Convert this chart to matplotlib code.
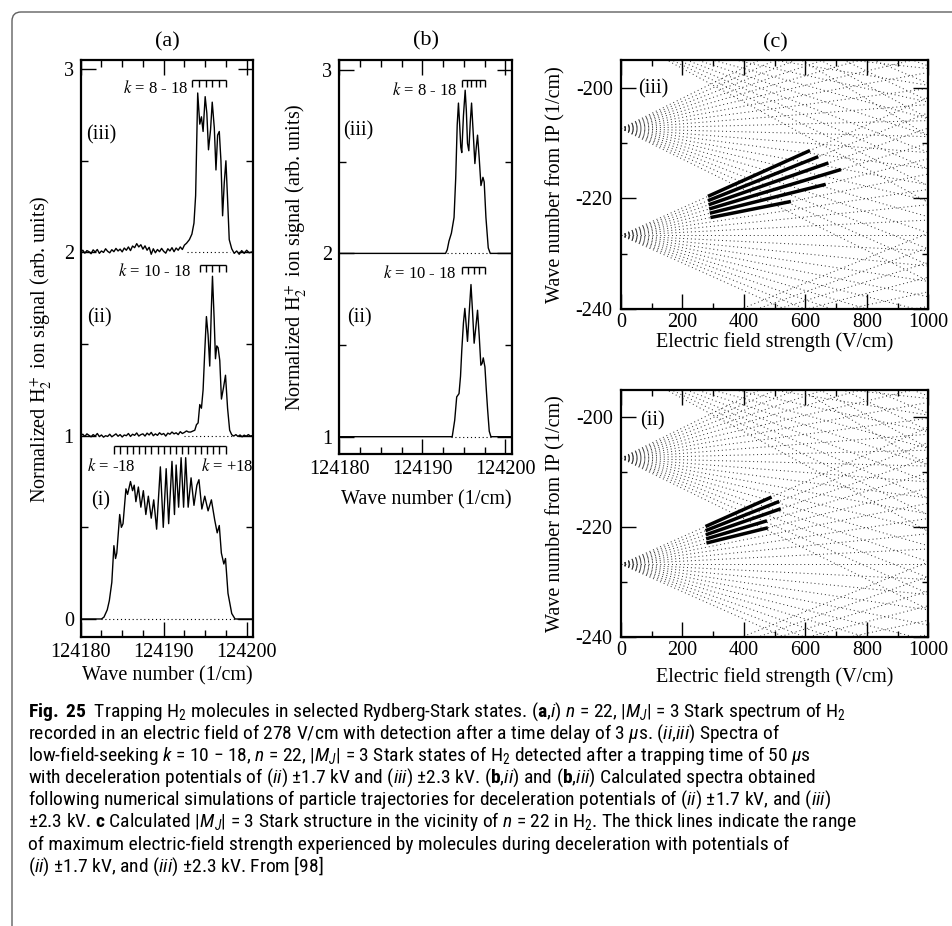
import numpy as np
import matplotlib
matplotlib.use("Agg")
import matplotlib.pyplot as plt
from matplotlib import font_manager
from matplotlib.patches import FancyBboxPatch
from matplotlib.transforms import IdentityTransform
from matplotlib.ticker import MultipleLocator, FormatStrFormatter

W, H = 953, 926
WN0 = 124180  # wave numbers below are offsets from this

# ---- panel (a): measured spectra (offset in 1/cm, normalized signal) ----
a_i_x = [0.0, 2.5, 2.8, 3.2, 3.45, 3.75, 4.0, 4.2, 4.35, 4.7, 4.9, 5.1, 5.45, 5.65,
         6.0, 6.25, 6.45, 6.65, 6.95, 7.25, 7.55, 7.85, 8.15, 8.5, 8.8, 9.15, 9.6,
         9.95, 10.3, 10.6, 11.0, 11.3, 11.5, 11.8, 12.1, 12.4, 12.65, 12.95, 13.3,
         13.65, 14.0, 14.25, 14.6, 14.95, 15.35, 15.75, 16.15, 16.45, 16.7, 16.95,
         17.25, 17.45, 17.75, 18.2, 18.6, 20.8]
a_i_y = [0.0, 0.0, 0.01, 0.05, 0.10, 0.20, 0.40, 0.33, 0.36, 0.57, 0.50, 0.52, 0.71,
         0.68, 0.75, 0.70, 0.73, 0.64, 0.72, 0.61, 0.70, 0.57, 0.67, 0.55, 0.65, 0.49,
         0.83, 0.50, 0.82, 0.52, 0.86, 0.57, 0.84, 0.61, 0.88, 0.61, 0.88, 0.61, 0.77,
         0.62, 0.73, 0.76, 0.60, 0.67, 0.59, 0.65, 0.54, 0.47, 0.51, 0.36, 0.30, 0.33,
         0.14, 0.03, 0.0, 0.0]

# (iii) baseline sampled every 0.25 from 0, then the band
a_iii_base = [2.000, 2.012, 1.996, 2.010, 2.004, 1.993, 2.014, 2.002, 2.016, 1.995,
              2.008, 2.000, 2.020, 2.006, 1.998, 2.015, 2.004, 2.022, 2.008, 2.018,
              2.003, 2.024, 2.012, 2.030, 2.010, 2.035, 2.026, 2.048, 2.030, 2.042,
              2.018, 2.036, 2.012, 2.028, 1.990, 2.020, 1.998, 2.016, 2.004, 2.022,
              2.006, 1.996, 2.020, 2.008, 2.026, 2.004, 2.024, 2.012, 2.030, 2.016,
              2.040, 2.050]
a_iii_x = [13.1, 13.4, 13.65, 13.85, 14.1, 14.35, 14.55, 14.75, 15.0, 15.2, 15.4,
           15.65, 15.85, 16.1, 16.3, 16.5, 16.7, 16.9, 17.1, 17.3, 17.5, 17.7, 17.9,
           18.2, 18.5, 18.8, 19.1, 19.4, 19.7, 20.0, 20.3, 20.8]
a_iii_y = [2.07, 2.10, 2.16, 2.31, 2.87, 2.70, 2.74, 2.66, 2.85, 2.76, 2.56, 2.67,
           2.82, 2.68, 2.45, 2.64, 2.66, 2.50, 2.20, 2.38, 2.50, 2.29, 2.07, 2.02,
           1.995, 2.008, 1.990, 2.010, 1.995, 2.012, 1.998, 2.005]

a_ii_base = [1.000, 1.008, 0.996, 1.010, 1.002, 0.994, 1.006, 0.998, 1.012, 0.995,
             1.004, 0.992, 1.000, 0.996, 1.008, 0.994, 1.002, 1.010, 0.997, 1.006,
             0.993, 1.004, 1.000, 1.012, 0.996, 1.008, 1.002, 1.015, 0.998, 1.006,
             1.010, 0.998, 1.014, 1.004, 1.018, 1.000, 1.010, 1.002, 1.016, 1.006,
             1.012, 0.998, 1.014, 1.008, 1.020, 1.010, 1.016, 1.006, 1.022, 1.012,
             1.018, 1.026, 1.020]
a_ii_x = [13.25, 13.5, 13.75, 13.95, 14.15, 14.35, 14.55, 14.75, 14.95, 15.15, 15.35,
          15.55, 15.75, 15.88, 16.08, 16.24, 16.4, 16.56, 16.76, 16.96, 17.2, 17.45,
          17.7, 17.95, 18.2, 18.45, 18.7, 18.95, 19.2, 19.45, 19.7, 19.95, 20.2,
          20.45, 20.8]
a_ii_y = [1.02, 1.025, 1.03, 1.06, 1.07, 1.17, 1.15, 1.25, 1.46, 1.65, 1.55, 1.38,
          1.70, 1.87, 1.64, 1.42, 1.49, 1.48, 1.41, 1.20, 1.26, 1.33, 1.15, 1.03,
          1.005, 0.998, 1.006, 0.996, 1.004, 0.994, 1.003, 0.997, 1.006, 0.998, 1.002]

# ---- panel (b): calculated spectra ----
b_iii_x = [0.0, 12.8, 13.0, 13.21, 13.5, 13.82, 14.02, 14.2, 14.35, 14.5, 14.63, 14.75,
           14.95, 15.16, 15.3, 15.44, 15.6, 15.78, 15.93, 16.1, 16.33, 16.5, 16.65,
           16.85, 17.06, 17.3, 17.45, 17.66, 17.94, 18.18, 20.7]
b_iii_y = [2.0, 2.0, 2.02, 2.067, 2.11, 2.196, 2.41, 2.70, 2.82, 2.70, 2.58, 2.55,
           2.75, 2.89, 2.78, 2.60, 2.56, 2.72, 2.82, 2.68, 2.49, 2.58, 2.645, 2.52,
           2.37, 2.415, 2.39, 2.196, 2.03, 2.0, 2.0]
b_ii_x = [0.0, 13.6, 13.9, 14.14, 14.42, 14.6, 14.75, 14.95, 15.12, 15.3, 15.44, 15.65,
          15.86, 16.05, 16.24, 16.45, 16.65, 16.85, 17.05, 17.2, 17.34, 17.54, 17.7,
          17.86, 18.06, 18.26, 20.7]
b_ii_y = [1.0, 1.0, 1.09, 1.217, 1.235, 1.33, 1.47, 1.62, 1.70, 1.60, 1.52, 1.68, 1.83,
          1.68, 1.51, 1.60, 1.69, 1.55, 1.39, 1.40, 1.43, 1.38, 1.26, 1.15, 1.03, 1.0,
          1.0]

# dotted zero lines: (level, start, end)
a_zero_lines = [(2, 12.8, 18.0), (1, 12.5, 18.4), (0, 2.4, 19.2)]
b_zero_lines = [(2, 13.0, 18.3), (1, 13.5, 18.3)]

# k combs: tick positions and top level
comb_a_iii = [13.45, 14.26, 15.07, 15.87, 16.68, 17.45]
comb_a_ii = [14.34, 15.11, 15.88, 16.68, 17.45]
comb_a_i = [4.04, 4.79, 5.53, 6.28, 7.02, 7.77, 8.51, 9.26, 10.0, 10.75, 11.49, 12.24,
            12.98, 13.73, 14.47, 15.22, 15.96, 16.71, 17.45]
comb_b_iii = [14.83, 15.36, 15.92, 16.45, 16.97, 17.54]
comb_b_ii = [14.75, 15.46, 16.17, 16.88, 17.6]

# ---- panel (c): Stark map ----
n_levels = [21, 22, 23, 24, 25]
zero_field = [-248.8, -226.7, -207.4, -190.5, -175.6]   # 1/cm below IP
m_abs = 3
stark_coeff = 6.3e-5    # 1/cm per (V/cm) per n*k
field_max = 1000

thick_k_iii = [18, 16, 14, 12, 10, 8]
thick_start_iii = [283, 283, 285, 287, 289, 291]
thick_end_iii = [615, 642, 675, 716, 666, 553]
thick_k_ii = [18, 16, 14, 12, 10]
thick_start_ii = [275, 275, 276, 277, 278]
thick_end_ii = [490, 515, 520, 475, 478]


def first_font(names):
    for nm in names:
        try:
            font_manager.findfont(font_manager.FontProperties(family=nm),
                                  fallback_to_default=False)
            return nm
        except ValueError:
            pass
    return "DejaVu Sans"


cap_font = first_font(["Liberation Sans Narrow", "Roboto Condensed",
                       "DejaVu Sans Condensed", "Liberation Sans"])

plt.rcParams["font.family"] = "Liberation Serif"
plt.rcParams["axes.unicode_minus"] = False
plt.rcParams["mathtext.fontset"] = "custom"
plt.rcParams["mathtext.rm"] = cap_font
plt.rcParams["mathtext.it"] = cap_font + ":italic"
plt.rcParams["mathtext.bf"] = cap_font + ":bold"

FS = 14.5

fig = plt.figure(figsize=(W / 100, H / 100), dpi=100)


def add_axes(l, t, r, b):
    return fig.add_axes([l / W, 1 - b / H, (r - l) / W, (b - t) / H])


def frame(ax):
    for sp in ax.spines.values():
        sp.set_linewidth(1.6)
    ax.tick_params(which="both", direction="in", top=True, right=True, width=1.0,
                   labelsize=FS)
    ax.tick_params(which="major", length=10.5)
    ax.tick_params(which="minor", length=5)


def spec_axes(ax, ylo, yhi):
    ax.set_xlim(WN0, WN0 + 20.8)
    ax.set_ylim(ylo, yhi)
    ax.xaxis.set_major_locator(MultipleLocator(10))
    ax.xaxis.set_minor_locator(MultipleLocator(2.5))
    ax.yaxis.set_major_locator(MultipleLocator(1))
    ax.yaxis.set_minor_locator(MultipleLocator(0.5))
    ax.xaxis.set_major_formatter(FormatStrFormatter("%d"))
    ax.yaxis.set_major_formatter(FormatStrFormatter("%d"))
    frame(ax)
    ax.tick_params(axis="x", which="major", pad=4)
    ax.tick_params(axis="y", which="major", pad=5)


def trace(ax, x, y):
    ax.plot(WN0 + np.asarray(x), y, color="k", lw=1.0, zorder=3)


def zero_lines(ax, lines):
    for lev, x0, x1 in lines:
        ax.plot([WN0 + x0, WN0 + x1], [lev, lev], color="k", lw=0.8,
                linestyle=(0, (1.0, 2.5)), zorder=2)


def comb(ax, xs, top, depth=0.04):
    xs = WN0 + np.asarray(xs)
    ax.hlines(top, xs[0], xs[-1], color="k", lw=1.0)
    ax.vlines(xs, top - depth, top, color="k", lw=1.0)


def ktext(ax, x, y, s, ha="right"):
    ax.text(WN0 + x, y, s, ha=ha, va="center", fontsize=12, math_fontfamily="stix")


# panel (a)
ax_a = add_axes(80.7, 60, 253.3, 637.3)
spec_axes(ax_a, -0.1, 3.05)
zero_lines(ax_a, a_zero_lines)
base_x = np.arange(len(a_iii_base)) * 0.25
trace(ax_a, np.concatenate([base_x, a_iii_x]), a_iii_base + a_iii_y)
base_x = np.arange(len(a_ii_base)) * 0.25
trace(ax_a, np.concatenate([base_x, a_ii_x]), a_ii_base + a_ii_y)
trace(ax_a, a_i_x, a_i_y)
comb(ax_a, comb_a_iii, 2.94)
comb(ax_a, comb_a_ii, 1.933)
comb(ax_a, comb_a_i, 0.946, 0.046)
ktext(ax_a, 12.93, 2.895, "$k$ = 8 - 18")
ktext(ax_a, 13.33, 1.897, "$k$ = 10 - 18")
ktext(ax_a, 3.73, 0.83, "$k$ = -18", ha="center")
ktext(ax_a, 17.7, 0.83, "$k$ = +18", ha="center")
ax_a.text(WN0 + 0.65, 2.64, "(iii)", ha="left", va="center", fontsize=FS)
ax_a.text(WN0 + 0.8, 1.643, "(ii)", ha="left", va="center", fontsize=FS)
ax_a.text(WN0 + 1.2, 0.647, "(i)", ha="left", va="center", fontsize=FS)

# panel (b)
ax_b = add_axes(339.3, 60, 512, 454.3)
spec_axes(ax_b, 0.904, 3.055)
zero_lines(ax_b, b_zero_lines)
trace(ax_b, b_iii_x, b_iii_y)
trace(ax_b, b_ii_x, b_ii_y)
comb(ax_b, comb_b_iii, 2.945)
comb(ax_b, comb_b_ii, 1.925)
ktext(ax_b, 14.23, 2.89, "$k$ = 8 - 18")
ktext(ax_b, 14.1, 1.89, "$k$ = 10 - 18")
ax_b.text(WN0 + 0.45, 2.67, "(iii)", ha="left", va="center", fontsize=FS)
ax_b.text(WN0 + 0.9, 1.65, "(ii)", ha="left", va="center", fontsize=FS)

# panel (c)
e22 = zero_field[n_levels.index(22)]


def stark_axes(ax, ks, f0s, f1s, label, lx, ly):
    for n, e0 in zip(n_levels, zero_field):
        kmax = n - m_abs - 1
        for k in range(-kmax, kmax + 1, 2):
            ax.plot([0, field_max], [e0, e0 + stark_coeff * n * k * field_max],
                    color="0.15", lw=0.7, linestyle=(0, (1.0, 3.0)))
    for k, f0, f1 in zip(ks, f0s, f1s):
        s = stark_coeff * 22 * k
        ax.plot([f0, f1], [e22 + s * f0, e22 + s * f1], color="k", lw=2.5,
                solid_capstyle="butt", zorder=4)
    ax.set_xlim(0, 1000)
    ax.set_ylim(-240, -195)
    ax.xaxis.set_major_locator(MultipleLocator(200))
    ax.xaxis.set_minor_locator(MultipleLocator(100))
    ax.yaxis.set_major_locator(MultipleLocator(20))
    ax.yaxis.set_minor_locator(MultipleLocator(10))
    frame(ax)
    ax.tick_params(which="minor", length=4.5)
    ax.tick_params(axis="x", which="major", pad=3)
    ax.tick_params(axis="y", which="major", pad=6)
    ax.text(lx, ly, label, ha="left", va="center", fontsize=FS)


ax_c1 = add_axes(621, 60, 928.3, 309)
stark_axes(ax_c1, thick_k_iii, thick_start_iii, thick_end_iii, "(iii)", 55, -200.2)
ax_c2 = add_axes(621, 390, 928.3, 637.3)
stark_axes(ax_c2, thick_k_ii, thick_start_ii, thick_end_ii, "(ii)", 62, -200.6)


def ftext(x, y, s, **kw):
    return fig.text(x / W, 1 - y / H, s, ha="center", va="center", **kw)


ftext(167, 42, "(a)", fontsize=16)
ftext(426, 41, "(b)", fontsize=16)
ftext(775, 43, "(c)", fontsize=16)
ftext(167, 676, "Wave number (1/cm)", fontsize=FS)
ftext(426, 500, "Wave number (1/cm)", fontsize=FS)
ftext(775, 342, "Electric field strength (V/cm)", fontsize=FS)
ftext(775, 677, "Electric field strength (V/cm)", fontsize=FS)
ylab = "Normalized H$_2^+$ ion signal (arb. units)"
ftext(41, 349, ylab, fontsize=FS, rotation=90, math_fontfamily="stix")
ftext(296, 257, ylab, fontsize=FS, rotation=90, math_fontfamily="stix")
ftext(556, 185, "Wave number from IP (1/cm)", fontsize=FS, rotation=90)
ftext(556, 514, "Wave number from IP (1/cm)", fontsize=FS, rotation=90)

# caption
cap_lines = [
    r"$\mathbf{Fig.\ 25}$  Trapping H$_2$ molecules in selected Rydberg-Stark states. "
    r"($\mathbf{a}$,$i$) $n$ = 22, |$M_J$| = 3 Stark spectrum of H$_2$",
    r"recorded in an electric field of 278 V/cm with detection after a time delay of "
    r"3 $\mu$s. ($ii$,$iii$) Spectra of",
    r"low-field-seeking $k$ = 10 − 18, $n$ = 22, |$M_J$| = 3 Stark states of H$_2$ "
    r"detected after a trapping time of 50 $\mu$s",
    r"with deceleration potentials of ($ii$) ±1.7 kV and ($iii$) ±2.3 kV. "
    r"($\mathbf{b}$,$ii$) and ($\mathbf{b}$,$iii$) Calculated spectra obtained",
    r"following numerical simulations of particle trajectories for deceleration "
    r"potentials of ($ii$) ±1.7 kV, and ($iii$)",
    r"±2.3 kV. $\mathbf{c}$ Calculated |$M_J$| = 3 Stark structure in the vicinity of "
    r"$n$ = 22 in H$_2$. The thick lines indicate the range",
    "of maximum electric-field strength experienced by molecules during deceleration "
    "with potentials of",
    r"($ii$) ±1.7 kV, and ($iii$) ±2.3 kV. From [98]",
]
cap_y = [712, 734, 756, 778, 800, 822, 845, 867]
cap_texts = []
for s, y in zip(cap_lines, cap_y):
    cap_texts.append(fig.text(28 / W, 1 - (y + 5) / H, s, ha="left", va="baseline",
                              fontsize=12, family=cap_font))
fig.canvas.draw()
rend = fig.canvas.get_renderer()
scale = 900 / cap_texts[5].get_window_extent(rend).width
cap_size = min(12 * scale, 14.0)
for t in cap_texts:
    t.set_fontsize(cap_size)

# rounded outer border
border = FancyBboxPatch((12, -20), 960, 934, boxstyle="round,pad=0,rounding_size=9",
                        transform=IdentityTransform(), facecolor="none",
                        edgecolor="#606060", lw=1.0)
fig.patches.append(border)

fig.savefig("out.png", dpi=100)
